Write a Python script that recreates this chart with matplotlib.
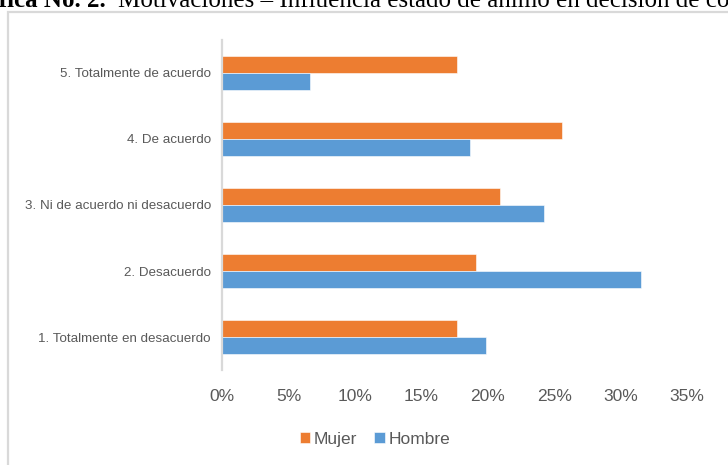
import matplotlib.pyplot as plt
import matplotlib.patches as mpatches
import numpy as np

categorias = [
    "1. Totalmente en desacuerdo",
    "2. Desacuerdo",
    "3. Ni de acuerdo ni desacuerdo",
    "4. De acuerdo",
    "5. Totalmente de acuerdo",
]
mujer = [17.7, 19.1, 20.9, 25.6, 17.7]
hombre = [19.9, 31.5, 24.2, 18.7, 6.6]
ticks_x = [0, 5, 10, 15, 20, 25, 30, 35]

naranja = "#ED7D31"
azul = "#5B9BD5"
gris = "#595959"

fig = plt.figure(figsize=(7.28, 4.65), dpi=100)
W, H = 728, 465

# marco del gráfico (se sale por la derecha y por abajo)
marco = mpatches.Rectangle((7.5 / W, -0.1), 1.0, 1.1 - 12.5 / H,
                           transform=fig.transFigure, fill=False,
                           edgecolor="#d9d9d9", linewidth=1.6)
fig.patches.append(marco)

# título del documento, cortado arriba
yb = 1 - 7 / H
fig.text(106 / W, yb, "Gráfica No. 2.", ha="right", va="baseline",
         family="Liberation Serif", fontweight="bold", fontsize=18)
fig.text(118 / W, yb, "Motivaciones – Influencia estado de ánimo en decisión de compra",
         ha="left", va="baseline", family="Liberation Serif", fontsize=18)

ax = fig.add_axes([222 / W, 1 - 370 / H, (687 - 222) / W, 330 / H])

y = np.arange(len(categorias))
alto = 0.26
ax.barh(y + alto / 2, mujer, height=alto, color=naranja, label="Mujer",
        edgecolor="white", linewidth=0.4)
ax.barh(y - alto / 2, hombre, height=alto, color=azul, label="Hombre",
        edgecolor="white", linewidth=0.4)

ax.set_xlim(0, 35)
ax.set_ylim(-0.5, len(categorias) - 0.5)
ax.set_xticks(ticks_x)
ax.set_xticklabels([f"{t}%" for t in ticks_x], family="Liberation Sans",
                   fontsize=12.5, color=gris)
ax.set_yticks(y)
ax.set_yticklabels(categorias, family="Liberation Sans", fontsize=9.6, color=gris)
ax.tick_params(axis="x", length=0, pad=14)
ax.tick_params(axis="y", length=0, pad=8)

for lado in ["top", "right", "bottom"]:
    ax.spines[lado].set_visible(False)
ax.spines["left"].set_color("#d9d9d9")
ax.spines["left"].set_linewidth(1.6)

fig.legend(loc="center", bbox_to_anchor=(375 / W, 1 - 439 / H), ncol=2,
           frameon=False, prop={"family": "Liberation Sans", "size": 12.5},
           handlelength=0.6, handleheight=0.6, handletextpad=0.2,
           columnspacing=1.0, labelcolor=gris)

fig.savefig("out.png", dpi=100)
